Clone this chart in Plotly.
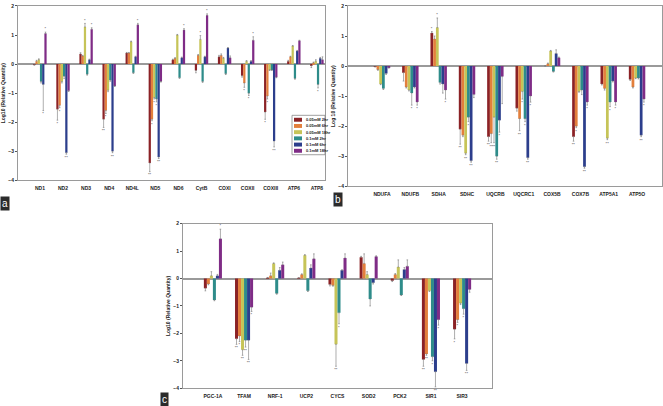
import plotly.graph_objects as go

W, H = 663, 406

series_names = ["0.05mM 2hr", "0.05mM 6hr", "0.05mM 18hr", "0.1mM 2hr", "0.1mM 6hr", "0.1mM 18hr"]
series_colors = ["#8B2226", "#E37F3C", "#C6C458", "#2E8C8A", "#2C3E8C", "#7F2C86"]

# ---------------- Panel a ----------------
a_cats = ["ND1", "ND2", "ND3", "ND4", "ND4L", "ND5", "ND6", "CytB", "COXI", "COXII", "COXIII", "ATP6", "ATP8"]
a_vals = [
    [-0.02, -1.55, 0.35, -1.90, 0.38, -3.40, 0.15, -0.22, 0.25, -0.40, -1.65, 0.10, -0.05],
    [0.10, -1.42, 0.28, -1.60, 0.38, -1.90, 0.20, 0.30, 0.30, -0.65, -1.10, 0.25, 0.05],
    [0.15, -0.60, 1.28, -0.90, 0.77, -1.15, 1.00, 0.85, 0.20, 0.10, -0.20, 0.62, 0.10],
    [-0.60, -0.42, -0.35, -0.55, -0.30, -1.20, -0.47, -0.60, -0.33, -1.00, -0.20, -0.50, -0.70],
    [-0.70, -3.05, 0.15, -3.00, 0.25, -3.20, 0.22, 0.25, 0.55, 0.10, -2.65, 0.45, 0.20],
    [1.05, -0.92, 1.20, -0.75, 1.35, -0.60, 1.17, 1.68, 0.22, 0.82, -0.45, 0.80, 0.15],
]
a_errs = [
    [0.02, 0.38, 0.04, 0.28, 0.02, 0.30, 0.02, 0.08, 0.05, 0.05, 0.25, 0.03, 0.07],
    [0.03, 0.08, 0.02, 0.10, 0.02, 0.05, 0.02, 0.03, 0.05, 0.15, 0.10, 0.02, 0.02],
    [0.03, 0.05, 0.12, 0.05, 0.02, 0.05, 0.02, 0.13, 0.03, 0.02, 0.02, 0.02, 0.05],
    [0.05, 0.08, 0.03, 0.04, 0.02, 0.10, 0.02, 0.03, 0.03, 0.08, 0.02, 0.02, 0.12],
    [0.90, 0.05, 0.02, 0.05, 0.02, 0.05, 0.02, 0.02, 0.02, 0.02, 0.20, 0.02, 0.03],
    [0.05, 0.02, 0.05, 0.02, 0.05, 0.02, 0.05, 0.05, 0.06, 0.12, 0.02, 0.02, 0.10],
]
a_stars = [
    ["", "*", "", "**", "", "**", "", "", "", "", "*", "", ""],
    ["", "*", "", "*", "", "*", "", "", "", "*", "*", "", ""],
    ["", "", "*", "", "", "*", "", "*", "", "", "", "", ""],
    ["", "", "", "", "", "*", "", "", "", "*", "", "", "*"],
    ["*", "**", "", "**", "", "**", "", "", "", "", "**", "", ""],
    ["*", "", "*", "", "*", "", "*", "*", "", "*", "", "", ""],
]

# ---------------- Panel b ----------------
b_cats = ["NDUFA", "NDUFB", "SDHA", "SDHC", "UQCRB", "UQCRC1", "COX5B", "COX7B", "ATP5A1", "ATP5O"]
b_vals = [
    [-0.02, -0.22, 1.10, -2.10, -2.35, -1.40, 0.00, -2.35, -0.60, -0.45],
    [-0.12, -0.70, 0.90, -2.30, -2.25, -1.75, 0.08, -2.00, -0.75, -0.70],
    [-0.60, -0.80, 1.28, -2.90, -1.70, -0.85, 0.50, -0.85, -2.40, -0.40],
    [-0.75, -0.90, -0.55, -1.70, -3.00, -1.75, -0.18, -0.80, -1.20, -0.40],
    [-0.25, -0.70, -0.60, -3.15, -1.80, -3.05, 0.42, -3.35, -0.50, -2.30],
    [-0.05, -1.20, -0.80, -0.95, -0.35, -1.00, 0.28, -1.20, -1.20, -1.10],
]
b_errs = [
    [0.01, 0.28, 0.05, 0.50, 0.15, 0.10, 0.01, 0.15, 0.03, 0.03],
    [0.02, 0.03, 0.10, 0.05, 0.30, 0.40, 0.02, 0.05, 0.05, 0.03],
    [0.02, 0.03, 0.32, 0.05, 0.85, 0.25, 0.02, 0.02, 0.05, 0.02],
    [0.03, 0.40, 0.05, 0.15, 0.10, 0.10, 0.02, 0.15, 0.15, 0.03],
    [0.03, 0.03, 0.30, 0.05, 0.40, 0.05, 0.12, 0.05, 0.03, 0.05],
    [0.02, 0.10, 0.30, 0.10, 0.90, 0.20, 0.02, 0.10, 0.10, 0.10],
]
b_stars = [
    ["", "", "*", "**", "**", "", "", "**", "", ""],
    ["", "", "", "", "**", "**", "", "*", "", ""],
    ["", "", "*", "**", "**", "*", "", "", "**", ""],
    ["", "*", "", "*", "**", "*", "", "", "*", ""],
    ["", "", "", "**", "*", "**", "", "**", "", "**"],
    ["", "*", "*", "", "", "*", "", "*", "*", "*"],
]

# ---------------- Panel c ----------------
c_cats = ["PGC-1A", "TFAM", "NRF-1", "UCP2", "CYCS", "SOD2", "PCK2", "SIR1", "SIR3"]
c_vals = [
    [-0.35, -2.20, 0.03, 0.02, -0.22, 0.78, -0.08, -2.95, -1.85],
    [-0.20, -2.10, 0.10, 0.15, -0.25, 0.55, 0.15, -2.75, -1.50],
    [0.10, -2.60, 0.55, 0.85, -2.40, 0.15, 0.42, -0.45, -0.90],
    [-0.78, -2.25, -0.55, -0.45, -1.25, -0.75, -0.60, -2.85, -1.10],
    [0.10, -2.25, 0.30, 0.38, 0.30, -0.15, 0.33, -3.40, -3.10],
    [1.45, -1.05, 0.50, 0.72, 0.75, 0.80, 0.45, -1.50, -0.40],
]
c_errs = [
    [0.10, 0.20, 0.01, 0.01, 0.05, 0.03, 0.03, 0.25, 0.35],
    [0.03, 0.20, 0.10, 0.02, 0.03, 0.35, 0.03, 0.05, 0.10],
    [0.15, 0.20, 0.02, 0.02, 0.80, 0.10, 0.26, 0.02, 0.05],
    [0.03, 0.25, 0.02, 0.02, 0.40, 0.25, 0.02, 0.15, 0.20],
    [0.05, 0.70, 0.10, 0.12, 0.02, 0.05, 0.07, 0.55, 0.25],
    [0.35, 0.15, 0.10, 0.18, 0.15, 0.03, 0.23, 0.20, 0.10],
]
c_stars = [
    ["", "**", "", "", "", "", "", "**", "*"],
    ["", "*", "", "", "", "", "", "**", "*"],
    ["", "**", "", "", "**", "", "", "", ""],
    ["", "**", "", "", "*", "", "", "*", "*"],
    ["", "**", "", "", "", "", "", "**", "**"],
    ["*", "*", "", "", "", "", "", "*", ""],
]

panels = [
    dict(cats=a_cats, vals=a_vals, errs=a_errs, stars=a_stars, ax="", xr=[-0.95, 12.35],
         xd=[18, 325], yd=[180, 3], title="Log10 (Relative Quantity)"),
    dict(cats=b_cats, vals=b_vals, errs=b_errs, stars=b_stars, ax="2", xr=[-1.2, 9.88],
         xd=[348, 662], yd=[186, 3], title="Log 10 (Relative Quantity)"),
    dict(cats=c_cats, vals=c_vals, errs=c_errs, stars=c_stars, ax="3", xr=[-0.96, 8.96],
         xd=[183, 492], yd=[391, 224], title="Log10 (Relative Quantity)"),
]

FONT = "Liberation Sans"
fig = go.Figure()
layout = dict(
    width=W, height=H, margin=dict(l=0, r=0, t=0, b=0),
    paper_bgcolor="white", plot_bgcolor="white",
    barmode="group", bargap=0.42, bargroupgap=0.0,
    showlegend=False, font=dict(family=FONT, size=5, color="#222"),
)

for p in panels:
    for j in range(6):
        vals = p["vals"][j]
        errs = p["errs"][j]
        plus = [e if v >= 0 else 0 for v, e in zip(vals, errs)]
        minus = [e if v < 0 else 0 for v, e in zip(vals, errs)]
        fig.add_trace(go.Bar(
            x=p["cats"], y=vals, name=series_names[j],
            marker=dict(color=series_colors[j], line=dict(width=0)),
            offsetgroup=str(j),
            error_y=dict(type="data", symmetric=False, array=plus, arrayminus=minus,
                         color="#777", thickness=0.6, width=0.8),
            xaxis="x" + p["ax"], yaxis="y" + p["ax"],
        ))
        tips = [v + e + 0.03 if v >= 0 else v - e - 0.03 for v, e in zip(vals, errs)]
        fig.add_trace(go.Bar(
            x=p["cats"], y=tips, text=p["stars"][j], textposition="outside",
            textfont=dict(size=4, color="#333", family=FONT), constraintext="none",
            textangle=0, cliponaxis=False,
            marker=dict(color="rgba(0,0,0,0)", line=dict(width=0)),
            offsetgroup=str(j), hoverinfo="skip",
            xaxis="x" + p["ax"], yaxis="y" + p["ax"],
        ))
    xk = "xaxis" + p["ax"]
    yk = "yaxis" + p["ax"]
    layout[xk] = dict(
        domain=[p["xd"][0] / W, p["xd"][1] / W], range=p["xr"], anchor="y" + p["ax"],
        type="category", showline=True, mirror=True, linecolor="#9a9a9a", linewidth=1,
        showgrid=False, ticks="", tickfont=dict(size=5, family=FONT, weight="bold", color="#222"),
        ticklabelstandoff=3,
    )
    layout[yk] = dict(
        domain=[1 - p["yd"][0] / H, 1 - p["yd"][1] / H], range=[-4, 2], anchor="x" + p["ax"],
        dtick=1, tick0=0, showline=True, mirror=True, linecolor="#9a9a9a", linewidth=1,
        showgrid=False, zeroline=True, zerolinecolor="#9a9a9a", zerolinewidth=1.5,
        ticks="outside", ticklen=2, tickcolor="#555",
        tickfont=dict(size=5, family=FONT, weight="bold", color="#222"),
        title=dict(text=p["title"], font=dict(size=5, family=FONT, weight="bold", color="#222"),
                   standoff=2),
    )

fig.update_layout(**layout)

# Legend box (panel a)
shapes = []
annos = []
lx0, lx1, ly0, ly1 = 292, 325, 114, 154
shapes.append(dict(type="rect", xref="paper", yref="paper", x0=lx0 / W, x1=lx1 / W,
                   y0=1 - ly1 / H, y1=1 - ly0 / H, line=dict(color="#888", width=0.8),
                   fillcolor="white"))
for j in range(6):
    yc = ly0 + 4.5 + j * 6.3
    shapes.append(dict(type="rect", xref="paper", yref="paper", x0=(lx0 + 2) / W, x1=(lx0 + 10) / W,
                       y0=1 - (yc + 2) / H, y1=1 - (yc - 2) / H,
                       line=dict(width=0), fillcolor=series_colors[j]))
    annos.append(dict(text=series_names[j], xref="paper", yref="paper", x=(lx0 + 12) / W,
                      y=1 - yc / H, xanchor="left", yanchor="middle", showarrow=False,
                      font=dict(size=4, family=FONT, weight="bold", color="#222")))

# Panel letters
for letter, x0, y0 in [("a", 0, 196), ("b", 333, 192), ("c", 160, 395)]:
    annos.append(dict(text=letter, xref="paper", yref="paper", x=x0 / W, y=1 - y0 / H,
                      xanchor="left", yanchor="top", showarrow=False, bgcolor="#2b2b2b",
                      font=dict(size=10, family=FONT, color="white"), borderpad=1))

fig.update_layout(shapes=shapes, annotations=annos)
fig.write_html("out.html", config={"displayModeBar": False},
               post_script="document.body.style.margin='0';document.body.style.overflow='hidden';")
